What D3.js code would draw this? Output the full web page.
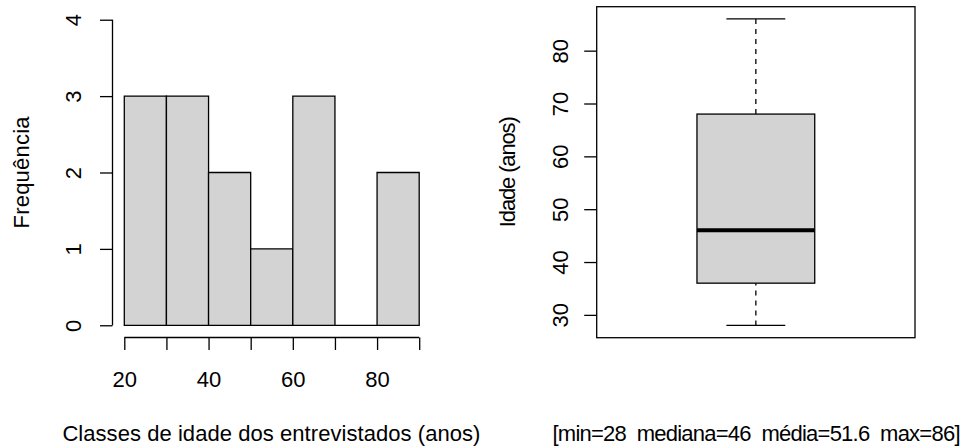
<!DOCTYPE html>
<html>
<head>
<meta charset="utf-8">
<script src="https://cdn.jsdelivr.net/npm/d3@7"></script>
<style>
  html, body { margin: 0; padding: 0; background: #fff; }
  text { font-family: "Liberation Sans", Arial, sans-serif; font-size: 22px; fill: #000; }
</style>
</head>
<body>
<div id="chart"></div>
<script>
var width = 964;
var height = 446;

// histogram data
var binStarts = [20, 30, 40, 50, 60, 70, 80];
var binEnds = [30, 40, 50, 60, 70, 80, 90];
var counts = [3, 3, 2, 1, 3, 0, 2];
var histXTicks = [20, 30, 40, 50, 60, 70, 80, 90];
var histXLabels = [20, 40, 60, 80];
var histYTicks = [0, 1, 2, 3, 4];

// boxplot data
var ageMin = 28;
var ageQ1 = 36;
var ageMedian = 46;
var ageQ3 = 68;
var ageMax = 86;
var boxYTicks = [30, 40, 50, 60, 70, 80];
var boxNote = "[min=28  mediana=46  média=51.6  max=86]";

var histXLabel = "Classes de idade dos entrevistados (anos)";
var histYLabel = "Frequência";
var boxYLabel = "Idade (anos)";

var lineW = 1.3;
var tickLen = 12.5;

var svg = d3.select("#chart")
    .append("svg")
    .attr("width", width)
    .attr("height", height);

// ---------- left panel: histogram ----------
var hx = d3.scaleLinear().domain([17.2, 92.8]).range([112.5, 431]);
var hy = d3.scaleLinear().domain([-0.16, 4.16]).range([337.5, 7.5]);

var left = svg.append("g");

// drawn as paths so the empty bin still shows its flat line
left.selectAll("path.bar")
    .data(counts)
    .enter()
    .append("path")
    .attr("class", "bar")
    .attr("d", function(d, i) {
        var p = d3.path();
        p.moveTo(hx(binStarts[i]), hy(0));
        p.lineTo(hx(binEnds[i]), hy(0));
        p.lineTo(hx(binEnds[i]), hy(d));
        p.lineTo(hx(binStarts[i]), hy(d));
        p.closePath();
        return p.toString();
    })
    .attr("fill", "#d3d3d3")
    .attr("stroke", "#000")
    .attr("stroke-width", lineW);

// x axis
var xAxis = left.append("g")
    .attr("transform", "translate(0," + 337.5 + ")")
    .call(d3.axisBottom(hx)
        .tickValues(histXTicks)
        .tickSizeInner(tickLen)
        .tickSizeOuter(0)
        .tickFormat(function(d) { return histXLabels.indexOf(d) >= 0 ? d : ""; }));

xAxis.select(".domain")
    .attr("d", "M" + hx(histXTicks[0]) + ",0H" + hx(histXTicks[histXTicks.length - 1]));

xAxis.selectAll("text")
    .attr("y", 387 - 337.5)
    .attr("dy", null);

// y axis
var yAxis = left.append("g")
    .attr("transform", "translate(" + 112.5 + ",0)")
    .call(d3.axisLeft(hy)
        .tickValues(histYTicks)
        .tickSizeInner(tickLen)
        .tickSizeOuter(0)
        .tickFormat(d3.format("d")));

yAxis.select(".domain")
    .attr("d", "M0," + hy(histYTicks[0]) + "V" + hy(histYTicks[histYTicks.length - 1]));

yAxis.selectAll(".tick text")
    .attr("x", null)
    .attr("dy", null)
    .attr("text-anchor", "middle")
    .attr("transform", "translate(" + (80.8 - 112.5) + ",0) rotate(-90)");

left.append("text")
    .attr("x", 271.4)
    .attr("y", 441)
    .attr("text-anchor", "middle")
    .attr("textLength", 418)
    .attr("lengthAdjust", "spacing")
    .text(histXLabel);

left.append("text")
    .attr("transform", "translate(28.6," + 172.5 + ") rotate(-90)")
    .attr("text-anchor", "middle")
    .attr("textLength", 112)
    .attr("lengthAdjust", "spacing")
    .text(histYLabel);

// ---------- right panel: boxplot ----------
var bx = d3.scaleLinear().domain([0.5, 1.5]).range([596.7, 915]);
var by = d3.scaleLinear().domain([25.68, 88.32]).range([337.7, 6.7]);
var boxHalf = 0.185;
var capHalf = boxHalf / 2;

var right = svg.append("g");

// whiskers
right.selectAll("line.whisker")
    .data([[ageMin, ageQ1], [ageQ3, ageMax]])
    .enter()
    .append("line")
    .attr("class", "whisker")
    .attr("x1", bx(1)).attr("x2", bx(1))
    .attr("y1", function(d) { return by(d[0]); })
    .attr("y2", function(d) { return by(d[1]); })
    .attr("stroke", "#000")
    .attr("stroke-width", lineW)
    .attr("stroke-dasharray", "5,5");

right.selectAll("line.cap")
    .data([ageMin, ageMax])
    .enter()
    .append("line")
    .attr("class", "cap")
    .attr("x1", bx(1 - capHalf)).attr("x2", bx(1 + capHalf))
    .attr("y1", function(d) { return by(d); })
    .attr("y2", function(d) { return by(d); })
    .attr("stroke", "#000")
    .attr("stroke-width", lineW);

right.append("rect")
    .attr("x", bx(1 - boxHalf))
    .attr("y", by(ageQ3))
    .attr("width", bx(1 + boxHalf) - bx(1 - boxHalf))
    .attr("height", by(ageQ1) - by(ageQ3))
    .attr("fill", "#d3d3d3")
    .attr("stroke", "#000")
    .attr("stroke-width", lineW);

right.append("line")
    .attr("x1", bx(1 - boxHalf)).attr("x2", bx(1 + boxHalf))
    .attr("y1", by(ageMedian)).attr("y2", by(ageMedian))
    .attr("stroke", "#000")
    .attr("stroke-width", 4);

// frame
right.append("rect")
    .attr("x", bx(0.5))
    .attr("y", by(88.32))
    .attr("width", bx(1.5) - bx(0.5))
    .attr("height", by(25.68) - by(88.32))
    .attr("fill", "none")
    .attr("stroke", "#000")
    .attr("stroke-width", lineW);

var byAxis = right.append("g")
    .attr("transform", "translate(" + bx(0.5) + ",0)")
    .call(d3.axisLeft(by)
        .tickValues(boxYTicks)
        .tickSizeInner(tickLen)
        .tickSizeOuter(0)
        .tickFormat(d3.format("d")));

byAxis.select(".domain").remove();

byAxis.selectAll(".tick text")
    .attr("x", null)
    .attr("dy", null)
    .attr("text-anchor", "middle")
    .attr("transform", "translate(" + (567.5 - bx(0.5)) + ",0) rotate(-90)");

right.append("text")
    .attr("transform", "translate(514.6," + 171.7 + ") rotate(-90)")
    .attr("text-anchor", "middle")
    .attr("textLength", 111)
    .attr("lengthAdjust", "spacing")
    .text(boxYLabel);

right.append("text")
    .attr("x", 756.5)
    .attr("y", 441)
    .attr("text-anchor", "middle")
    .attr("textLength", 408)
    .attr("lengthAdjust", "spacing")
    .style("white-space", "pre")
    .text(boxNote);

// axis styling
svg.selectAll(".tick line, .domain")
    .attr("stroke", "#000")
    .attr("stroke-width", lineW);
svg.selectAll(".tick text")
    .attr("fill", "#000")
    .style("font-family", "'Liberation Sans', Arial, sans-serif")
    .style("font-size", "22px");
</script>
</body>
</html>
